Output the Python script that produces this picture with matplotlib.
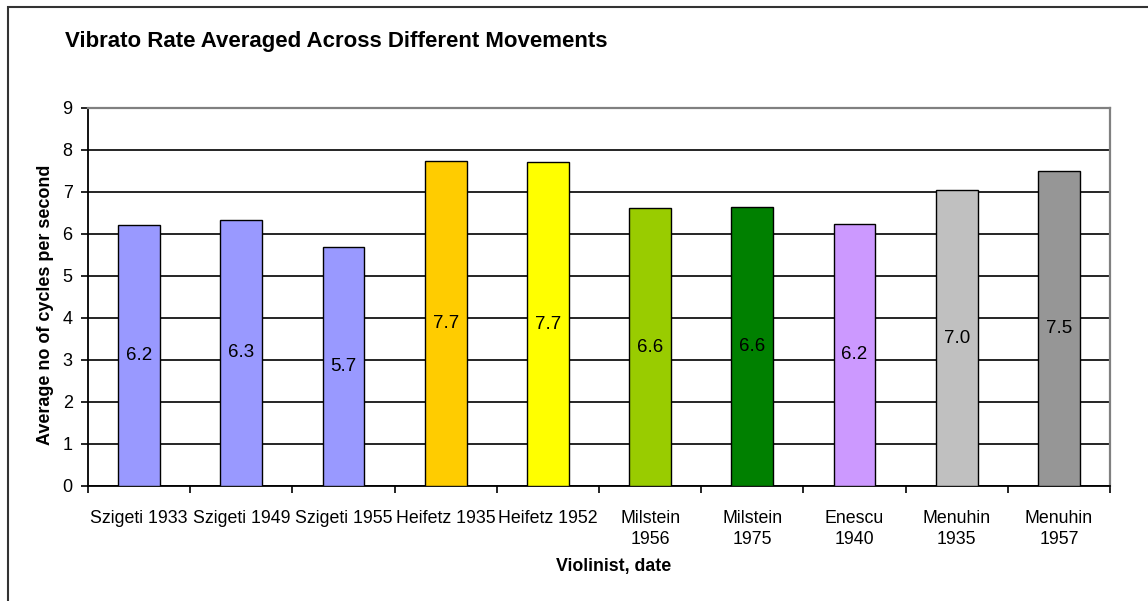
import matplotlib
matplotlib.use("Agg")
import matplotlib.pyplot as plt
from matplotlib.patches import Rectangle
import numpy as np

plt.rcParams["font.family"] = ["Liberation Sans", "DejaVu Sans"]

violinists = [
    "Szigeti 1933", "Szigeti 1949", "Szigeti 1955", "Heifetz 1935", "Heifetz 1952",
    "Milstein\n1956", "Milstein\n1975", "Enescu\n1940", "Menuhin\n1935", "Menuhin\n1957",
]
vibrato_rate = [6.21, 6.34, 5.69, 7.74, 7.71, 6.61, 6.64, 6.24, 7.04, 7.51]
bar_colors = [
    "#9999FF", "#9999FF", "#9999FF", "#FFCC00", "#FFFF00",
    "#99CC00", "#008000", "#CC99FF", "#C0C0C0", "#969696",
]
y_ticks = list(range(0, 10))

fig = plt.figure(figsize=(11.48, 6.01), dpi=100)
ax = fig.add_axes([88 / 1148, 1 - 486 / 601, (1110 - 88) / 1148, (486 - 108) / 601])

x = np.arange(len(violinists))
ax.bar(x, vibrato_rate, width=0.41, color=bar_colors, edgecolor="black",
       linewidth=1.0, zorder=3)

for xi, v in zip(x, vibrato_rate):
    ax.text(xi, v / 2, f"{v:.1f}", ha="center", va="center", fontsize=13.5,
            color="black", zorder=4)

ax.set_xlim(-0.5, len(violinists) - 0.5)
ax.set_ylim(0, 9)
ax.set_yticks(y_ticks)
ax.yaxis.grid(True, color="black", linewidth=1.2, zorder=0)
ax.set_axisbelow(True)

# category labels centred, ticks on the category boundaries
ax.set_xticks(x)
ax.set_xticklabels(violinists, fontsize=12.8, va="top", linespacing=1.3)
ax.tick_params(axis="x", length=0, pad=17)
ax.set_xticks(np.arange(-0.5, len(violinists)), minor=True)
ax.tick_params(axis="x", which="minor", length=5, width=1.2, color="black", direction="out")
ax.tick_params(axis="y", labelsize=13, length=5, width=1.2, direction="out", pad=6)

for side in ("left", "bottom"):
    ax.spines[side].set_color("black")
    ax.spines[side].set_linewidth(1.3)
for side in ("top", "right"):
    ax.spines[side].set_color("#808080")
    ax.spines[side].set_linewidth(1.6)

ax.set_ylabel("Average no of cycles per second", fontsize=13, fontweight="bold")
ax.yaxis.set_label_coords(-0.033, 0.479)
fig.text(614 / 1148, 1 - 567 / 601, "Violinist, date", fontsize=12.8, fontweight="bold",
         ha="center", va="center")
fig.text(65 / 1148, 1 - 42 / 601, "Vibrato Rate Averaged Across Different Movements",
         fontsize=16, fontweight="bold", ha="left", va="center")

# outer chart frame
fig.patches.append(Rectangle((8 / 1148, -0.1), 1.2, 1 - 7 / 601 + 0.1,
                             transform=fig.transFigure, fill=False,
                             edgecolor="#333333", linewidth=1.5))

fig.savefig("out.png", dpi=100)
